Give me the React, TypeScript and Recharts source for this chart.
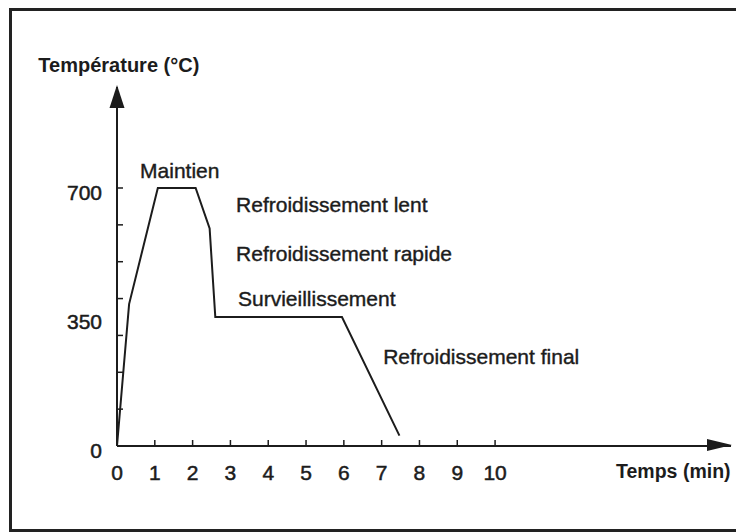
import React from 'react';
import { LineChart, Line, XAxis, YAxis, ReferenceDot } from 'recharts';

// Heat-treatment cycle (time in minutes, temperature in °C)
const timeMin = [0, 0.32, 1.08, 2.08, 2.45, 2.6, 5.95, 7.47];
const tempC = [0, 385, 700, 700, 590, 350, 350, 28];

const xTicks = [0, 1, 2, 3, 4, 5, 6, 7, 8, 9, 10];
const yTicks = [0, 100, 200, 300, 350, 400, 500, 600, 700];
const yLabelled = [0, 350, 700];

const X_MAX = 16.24;
const Y_MAX = 974;

const xTitle = 'Temps (min)';
const yTitle = 'Température (°C)';
const xTitlePos = [13.2, -87];
const yTitlePos = [-2.08, 1014];

const annotationText = [
  'Maintien',
  'Refroidissement lent',
  'Refroidissement rapide',
  'Survieillissement',
  'Refroidissement final',
];
const annotationT = [0.61, 3.15, 3.15, 3.2, 7.04];
const annotationY = [727, 635, 502, 380, 222];

const data = timeMin.map((t, i) => ({ t, temp: tempC[i] }));

const INK = '#1c1c1c';
const FONT = '"Liberation Sans", Arial, Helvetica, sans-serif';

const YTick = (props: any) => {
  const { x, y, payload } = props;
  const v = payload.value as number;
  return (
    <g>
      {v % 100 === 0 && v !== 0 && (
        <line x1={x - 1} x2={x + 6} y1={y} y2={y} stroke={INK} strokeWidth={1.5} />
      )}
      {yLabelled.includes(v) && (
        <text x={x - 15} y={y + 12} textAnchor="end" fontSize={21} fontFamily={FONT} fill={INK} stroke={INK} strokeWidth={0.5}>
          {v}
        </text>
      )}
    </g>
  );
};

const XTick = (props: any) => {
  const { x, y, payload } = props;
  const v = payload.value as number;
  return (
    <g>
      {v !== 0 && <line x1={x} x2={x} y1={y} y2={y - 6} stroke={INK} strokeWidth={1.5} />}
      <text x={x} y={y + 34} textAnchor="middle" fontSize={21} fontFamily={FONT} fill={INK} stroke={INK} strokeWidth={0.5}>
        {v}
      </text>
    </g>
  );
};

const textShape = (label: string, size: number, weight: string, sw: number) => (p: any) => (
  <text x={p.cx} y={p.cy} fontSize={size} fontWeight={weight} fontFamily={FONT} fill={INK} stroke={INK} strokeWidth={sw}>
    {label}
  </text>
);

const yArrow = (p: any) => (
  <path d={`M${p.cx},${p.cy - 2} L${p.cx - 7.5},${p.cy + 21} L${p.cx + 7.5},${p.cy + 21} Z`} fill={INK} />
);
const xArrow = (p: any) => (
  <path d={`M${p.cx + 1},${p.cy - 1} L${p.cx - 24},${p.cy - 7} L${p.cx - 24},${p.cy + 5} Z`} fill={INK} />
);

export default function App() {
  return (
    <div style={{ position: 'absolute', left: 0, top: 0, width: 736, height: 532, background: '#fff', overflow: 'hidden' }}>
      <div
        style={{
          position: 'absolute',
          left: 9,
          top: 8,
          width: 740,
          height: 518,
          borderLeft: '3px solid #222',
          borderTop: '3px solid #222',
          borderBottom: '3px solid #222',
        }}
      />
      <div style={{ position: 'absolute', left: 0, top: 0 }}>
        <LineChart width={736} height={532} data={data} margin={{ top: 87, right: 5, bottom: 46, left: 57 }}>
          <XAxis
            dataKey="t"
            type="number"
            domain={[0, X_MAX]}
            ticks={xTicks}
            interval={0}
            height={40}
            tickSize={0}
            tickMargin={0}
            tickLine={false}
            axisLine={{ stroke: INK, strokeWidth: 2 }}
            tick={<XTick />}
          />
          <YAxis
            type="number"
            domain={[0, Y_MAX]}
            ticks={yTicks}
            interval={0}
            width={60}
            tickSize={0}
            tickMargin={0}
            tickLine={false}
            axisLine={{ stroke: INK, strokeWidth: 2 }}
            tick={<YTick />}
          />
          <Line
            type="linear"
            dataKey="temp"
            stroke={INK}
            strokeWidth={2}
            dot={false}
            isAnimationActive={false}
          />
          <ReferenceDot x={0} y={Y_MAX} ifOverflow="visible" shape={yArrow} />
          <ReferenceDot x={X_MAX} y={0} ifOverflow="visible" shape={xArrow} />
          <ReferenceDot x={yTitlePos[0]} y={yTitlePos[1]} ifOverflow="visible" shape={textShape(yTitle, 20, 'bold', 0)} />
          <ReferenceDot x={xTitlePos[0]} y={xTitlePos[1]} ifOverflow="visible" shape={textShape(xTitle, 19.5, 'bold', 0)} />
          {annotationText.map((s, i) => (
            <ReferenceDot
              key={s}
              x={annotationT[i]}
              y={annotationY[i]}
              ifOverflow="visible"
              shape={textShape(s, 21, 'normal', 0.4)}
            />
          ))}
        </LineChart>
      </div>
    </div>
  );
}
